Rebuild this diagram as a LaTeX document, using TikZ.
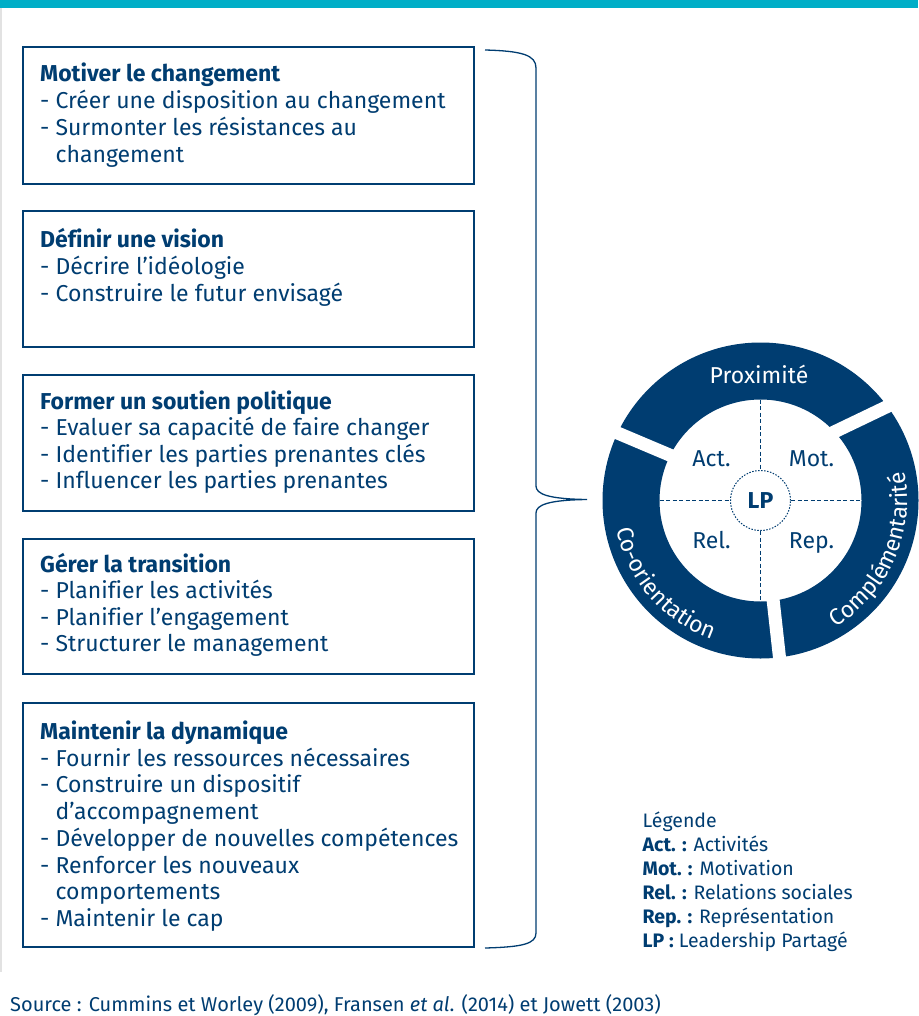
\documentclass[tikz,border=0pt]{standalone}
\usepackage{fontspec}
\setmainfont{Fira Sans}[Ligatures=NoCommon]
\usetikzlibrary{decorations.text}
\definecolor{dblue}{RGB}{0,61,113}
\definecolor{tealbar}{RGB}{0,174,199}
\definecolor{framegray}{RGB}{226,226,226}
\newcommand{\mylines}[2]{\vtop{\baselineskip=#1pt\lineskiplimit=-100pt\lineskip=0pt #2}}
\newcommand{\ind}{\phantom{- }}
\begin{document}
\begin{tikzpicture}[x=1pt,y=-1pt,
  boxst/.style={draw=dblue, line width=1.3pt},
  txt/.style={anchor=base west, inner sep=0pt, text=dblue, font=\fontsize{23}{27}\selectfont},
  quad/.style={text=dblue, inner sep=0pt, anchor=base, font=\fontsize{23}{23}\selectfont},
  dashln/.style={draw=dblue, line width=1.1pt, dash pattern=on 4pt off 2.5pt},
  gapln/.style={draw=white, line width=13pt},
  ringtxt/.style={decorate, decoration={text along path, text align=center,
     text={|\fontsize{23}{23}\selectfont\color{white}|#1}}}]
\useasboundingbox (0,0) rectangle (918,1016);
\fill[white] (0,0) rectangle (918,1016);
\fill[tealbar] (0,0) rectangle (918,8);
\draw[framegray, line width=1.5pt] (0.75,8) -- (0.75,972);

% boxes
\draw[boxst] (23,47) rectangle (474,184);
\draw[boxst] (23,211) rectangle (474,347);
\draw[boxst] (23,375) rectangle (474,511);
\draw[boxst] (23,539) rectangle (474,674);
\draw[boxst] (23,703) rectangle (474,947);

\node[txt] (t1) at (40,81.5) {\mylines{27}{%
  \hbox{\bfseries Motiver le changement}
  \hbox{- Créer une disposition au changement}
  \hbox{- Surmonter les résistances au}
  \hbox{\ind changement}}};
\node[txt] (t2) at (40,247.5) {\mylines{27}{%
  \hbox{\bfseries Définir une vision}
  \hbox{- Décrire l’idéologie}
  \hbox{- Construire le futur envisagé}}};
\node[txt] (t3) at (40,409) {\mylines{26.6}{%
  \hbox{\bfseries Former un soutien politique}
  \hbox{- Evaluer sa capacité de faire changer}
  \hbox{- Identifier les parties prenantes clés}
  \hbox{- Influencer les parties prenantes}}};
\node[txt] (t4) at (40,572) {\mylines{26.6}{%
  \hbox{\bfseries Gérer la transition}
  \hbox{- Planifier les activités}
  \hbox{- Planifier l’engagement}
  \hbox{- Structurer le management}}};
\node[txt] (t5) at (40,739.5) {\mylines{26.7}{%
  \hbox{\bfseries Maintenir la dynamique}
  \hbox{- Fournir les ressources nécessaires}
  \hbox{- Construire un dispositif}
  \hbox{\ind d’accompagnement}
  \hbox{- Développer de nouvelles compétences}
  \hbox{- Renforcer les nouveaux}
  \hbox{\ind comportements}
  \hbox{- Maintenir le cap}}};

% brace
\draw[dblue, line width=1.3pt] (485,50) .. controls (522,51) and (536,55) .. (536,68)
  -- (536,486) .. controls (536,494) and (548,499) .. (587,499.5)
  .. controls (548,500) and (536,505) .. (536,513)
  -- (536,933) .. controls (536,944) and (522,947) .. (485,948);

% ring
\coordinate (c) at (760.5,500.5);
\fill[dblue, even odd rule] (c) circle[radius=158] (c) circle[radius=101];
\draw[gapln] (592,422.2) -- (686.6,462.2);
\draw[gapln] (914.8,393.3) -- (821,438.3);
\draw[gapln] (782.4,683.7) -- (771.1,582);

\node[anchor=base, inner sep=0pt, text=white, font=\fontsize{23}{23}\selectfont] (prox) at (759,383) {Proximité};
\path[ringtxt=Co-orientation] (c) ++(181:147) arc[start angle=181, end angle=97, radius=147];
\path[ringtxt=Complémentarité] (c) ++(66:147) arc[start angle=66, end angle=-18, radius=147];

% inner
\node[circle, draw=dblue, line width=1pt, dash pattern=on 1.5pt off 1.5pt, minimum size=60pt, inner sep=0pt,
  text=dblue, font=\fontsize{23}{23}\selectfont\bfseries] (lp) at (c) {LP};
\coordinate (itop) at (760.5,399.5);
\coordinate (ibot) at (760.5,601.5);
\coordinate (ileft) at (659.5,500.5);
\coordinate (iright) at (861.5,500.5);
\draw[dashln] (itop) -- (lp.north);
\draw[dashln] (lp.south) -- (ibot);
\draw[dashln] (ileft) -- (lp.west);
\draw[dashln] (lp.east) -- (iright);

\node[quad] (act) at (711.5,466.5) {Act.};
\node[quad] (mot) at (811.5,466.5) {Mot.};
\node[quad] (rel) at (711.5,548) {Rel.};
\node[quad] (rep) at (811.5,548) {Rep.};

% legend
\node[anchor=base west, inner sep=0pt, text=dblue, font=\fontsize{19.5}{24}\selectfont] (leg) at (642.5,827.5) {\mylines{24}{%
  \hbox{Légende}
  \hbox{\textbf{Act. :} Activités}
  \hbox{\textbf{Mot. :} Motivation}
  \hbox{\textbf{Rel. :} Relations sociales}
  \hbox{\textbf{Rep. :} Représentation}
  \hbox{\textbf{LP :} Leadership Partagé}}};

% source
\node[anchor=base west, inner sep=0pt, text=dblue, font=\fontsize{20}{20}\selectfont] (src) at (10,1011)
  {Source : Cummins et Worley (2009), Fransen \textit{et al}. (2014) et Jowett (2003)};
\end{tikzpicture}
\end{document}
